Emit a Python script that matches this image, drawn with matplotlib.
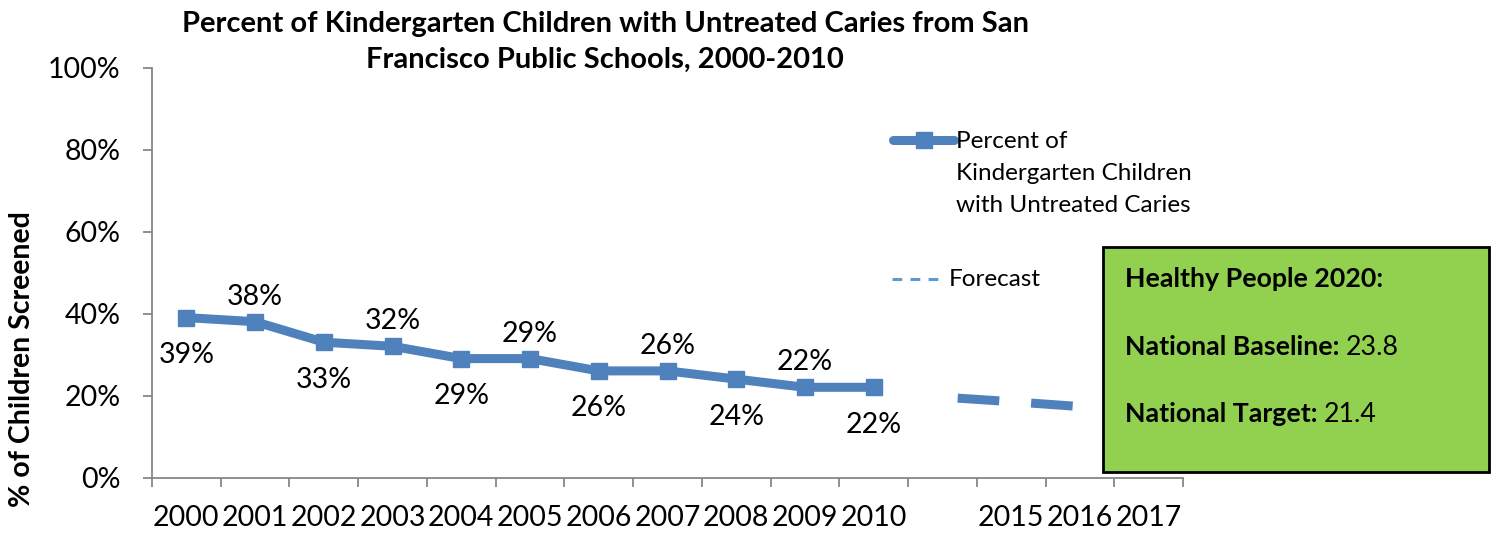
import numpy as np
import matplotlib
matplotlib.use("Agg")
import matplotlib.pyplot as plt
from matplotlib.lines import Line2D
from matplotlib.patches import Rectangle

plt.rcParams['font.family'] = ['Lato', 'DejaVu Sans']
plt.rcParams['lines.scale_dashes'] = False

# categories on the x axis (one blank slot between 2010 and 2015)
years = ["2000", "2001", "2002", "2003", "2004", "2005", "2006", "2007",
         "2008", "2009", "2010", "", "2015", "2016", "2017"]
caries = [39, 38, 33, 32, 29, 29, 26, 26, 24, 22, 22]   # % kids, 2000-2010
forecast_idx = [11, 12, 13]
forecast = [19.6, 18.5, 17.3]

hp_baseline = 23.8
hp_target = 21.4

W, H = 1499, 533
fig = plt.figure(figsize=(W/100, H/100), dpi=100)
ax = fig.add_axes([152/W, 1-477.5/H, (1183-152)/W, (477.5-67.5)/H])

blue = '#4F81BD'
gray = '#868686'

x = np.arange(len(caries))
ax.plot(x, caries, color=blue, lw=6.5, marker='s', ms=12, solid_joinstyle='round', zorder=3)
ax.plot(forecast_idx, forecast, color=blue, lw=6.5,
        linestyle=(42, (30, 23)), dash_capstyle='butt', zorder=2)

# data labels alternate below / above
for i, v in enumerate(caries):
    off = -27 if i % 2 == 0 else 18
    ax.annotate("%d%%" % v, (i, v), xytext=(0, off), textcoords='offset points',
                ha='center', va='center', fontsize=20.5)

ax.set_xlim(-0.5, len(years) - 0.5)
ax.set_ylim(0, 100)
ax.set_yticks(np.arange(0, 101, 20))
ax.set_yticklabels(["%d%%" % t for t in range(0, 101, 20)], fontsize=20.5)
ax.set_xticks(np.arange(len(years)))
ax.set_xticklabels(years, fontsize=20.5)
ax.set_xticks(np.arange(len(years) + 1) - 0.5, minor=True)
ax.tick_params(axis='x', which='major', length=0, pad=20)
ax.tick_params(axis='x', which='minor', length=6.5, color=gray, width=1.3)
ax.tick_params(axis='y', length=6.5, color=gray, width=1.3, pad=16)

for s in ['top', 'right']:
    ax.spines[s].set_visible(False)
for s in ['left', 'bottom']:
    ax.spines[s].set_color(gray)
    ax.spines[s].set_linewidth(1.3)

fig.text(605/W, 1-24/H, "Percent of Kindergarten Children with Untreated Caries from San",
         ha='center', va='center', fontsize=21, fontweight='bold')
fig.text(605/W, 1-60/H, "Francisco Public Schools, 2000-2010",
         ha='center', va='center', fontsize=21, fontweight='bold')
fig.text(22/W, 1-359/H, "% of Children Screened", rotation=90,
         ha='center', va='center', fontsize=20.5, fontweight='bold')

# legend, drawn by hand
fig.add_artist(Line2D([893/W, 954/W], [1-140/H, 1-140/H], color=blue, lw=6.5,
                      solid_capstyle='round'))
fig.add_artist(Line2D([924/W], [1-140/H], color=blue, marker='s', ms=12))
fig.text(956/W, 1-141/H, "Percent of", ha='left', va='center', fontsize=17.5)
fig.text(956/W, 1-173/H, "Kindergarten Children", ha='left', va='center', fontsize=17.5)
fig.text(956/W, 1-206/H, "with Untreated Caries", ha='left', va='center', fontsize=17.5)
fig.add_artist(Line2D([892/W, 942/W], [1-279/H, 1-279/H], color='#5B9BD5', lw=2.2,
                      linestyle=(0, (7, 6))))
fig.text(949/W, 1-280/H, "Forecast", ha='left', va='center', fontsize=17.5)

# Healthy People 2020 box
fig.add_artist(Rectangle((1103/W, 1-472/H), (1489-1103)/W, (472-247)/H,
                         facecolor='#92D050', edgecolor='black', lw=2,
                         transform=fig.transFigure, zorder=1))
fig.text(1125/W, 1-287/H, "Healthy People 2020:", ha='left', va='baseline',
         fontsize=19.3, fontweight='bold', zorder=3)
bold_parts = []
for ypx, lab in [(355, "National Baseline:"), (422, "National Target:")]:
    bold_parts.append(fig.text(1125/W, 1-ypx/H, lab, ha='left', va='baseline',
                               fontsize=19.3, fontweight='bold', zorder=3))
fig.canvas.draw()
r = fig.canvas.get_renderer()
for t, val in zip(bold_parts, [hp_baseline, hp_target]):
    bb = t.get_window_extent(r)
    fig.text(bb.x1/W + 6/W, t.get_position()[1], "%.1f" % val, ha='left',
             va='baseline', fontsize=19.3, zorder=3)

fig.savefig("out.png", dpi=100)
